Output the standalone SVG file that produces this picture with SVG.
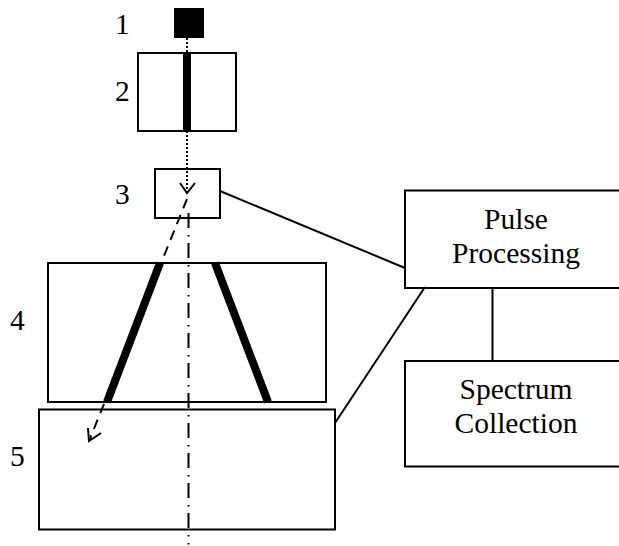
<svg xmlns="http://www.w3.org/2000/svg" width="619" height="546" viewBox="0 0 619 546">
<style>
.box{fill:none;stroke:#000;stroke-width:2}
.line{fill:none;stroke:#000;stroke-width:2}
.bar{fill:none;stroke:#000;stroke-width:8}
.dot{fill:none;stroke:#000;stroke-width:2;stroke-dasharray:2 2}
.dash{fill:none;stroke:#000;stroke-width:2;stroke-dasharray:10 7}
text{font-family:"Liberation Serif","Times New Roman",serif;font-size:29.500px;fill:#000}
.c{text-anchor:middle}
</style>
<rect width="619" height="546" fill="#fff"/>
<g id="node-1"><rect x="174" y="8" width="30" height="30" fill="#000"/><text x="115" y="34">1</text></g>
<g id="node-2"><rect class="box" x="138" y="53" width="98" height="78"/><line class="bar" x1="187" y1="53" x2="187" y2="131"/><text x="115" y="101">2</text></g>
<g id="node-3"><rect class="box" x="155" y="169" width="65" height="49"/><text x="115" y="204">3</text></g>
<g id="node-4"><rect class="box" x="48" y="263" width="278" height="139"/><line class="bar" x1="160" y1="263" x2="107" y2="402"/><line class="bar" x1="215" y1="263" x2="268" y2="402"/><text x="10" y="330">4</text></g>
<g id="node-5"><rect class="box" x="39" y="409.500" width="296" height="120"/><text x="10" y="466">5</text></g>
<g id="pulse-processing"><path class="box" d="M619 190.500H405V288H619"/><text class="c" x="516" y="229">Pulse</text><text class="c" x="516" y="263">Processing</text></g>
<g id="spectrum-collection"><path class="box" d="M619 361H405V466.500H619"/><text class="c" x="516" y="399">Spectrum</text><text class="c" x="516" y="433">Collection</text></g>
<g id="connectors">
<line class="dot" x1="187" y1="38" x2="187" y2="53"/>
<line class="dot" x1="187" y1="131" x2="187" y2="192"/>
<path class="line" d="M180 183L187 193L195 183"/>
<line class="dash" x1="187" y1="199" x2="89" y2="441"/>
<path class="line" d="M88 428L89 441L101 433"/>
<line x1="188.500" y1="213" x2="188.500" y2="529" fill="none" stroke="#000" stroke-width="2" stroke-dasharray="15 7 1.500 6.500"/>
<line x1="188.500" y1="535" x2="188.500" y2="536.500" stroke="#000" stroke-width="2"/>
<line x1="188.500" y1="543" x2="188.500" y2="544.500" stroke="#000" stroke-width="2"/>
<line class="line" x1="220" y1="191" x2="405" y2="268"/>
<line class="line" x1="335" y1="423" x2="425" y2="287"/>
<line class="line" x1="492.500" y1="288" x2="492.500" y2="361"/>
</g>
</svg>
